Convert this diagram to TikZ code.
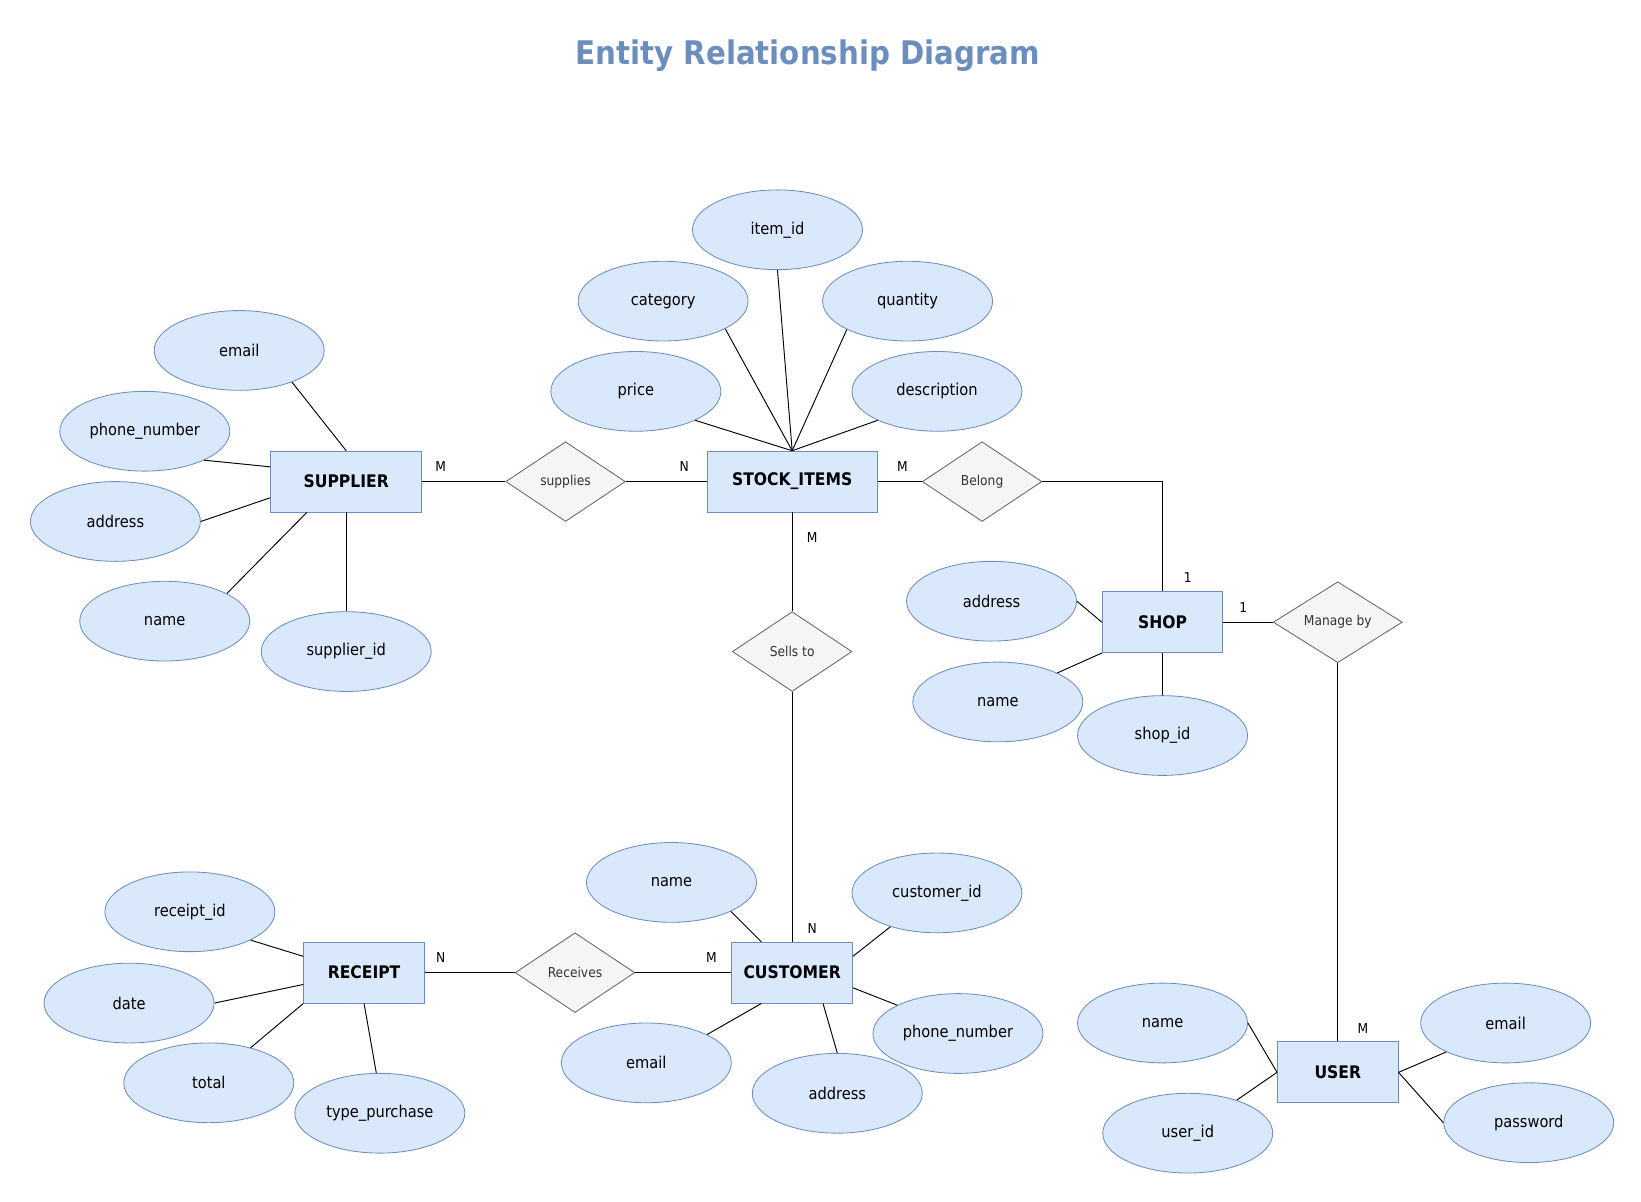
\documentclass[tikz,border=0pt]{standalone}
\usepackage{fontspec}
\setmainfont{DejaVu Sans Condensed}
\usepackage{tikz}
\usetikzlibrary{shapes.geometric}

\definecolor{attrfill}{HTML}{DAE8FC}
\definecolor{attrline}{HTML}{6C8EBF}
\definecolor{relfill}{HTML}{F5F5F5}
\definecolor{relline}{HTML}{666666}

\begin{document}
\begin{tikzpicture}[x=1pt, y=-1pt,
	      entity/.style={draw=attrline, fill=attrfill, line width=0.8pt, minimum width=#1,
	        minimum height=58pt, inner sep=0pt, font=\fontsize{16.5}{18}\selectfont\bfseries},
	      entity/.default=115pt,
	      attr/.style={ellipse, draw=attrline, fill=attrfill, line width=0.8pt, minimum width=162pt,
	        minimum height=76pt, inner sep=0pt, font=\fontsize{15.5}{18}\selectfont},
	      rel/.style={diamond, draw=relline, fill=relfill, line width=0.8pt, minimum width=#1,
	        minimum height=76pt, inner sep=0pt, text=black!80, font=\fontsize{13}{15}\selectfont},
	      rel/.default=114pt,
	      card/.style={font=\fontsize{13}{15}\selectfont},
	      link/.style={to path={-| (\tikztotarget)}}]
\useasboundingbox (0,0) rectangle (1564,1145);
\node[text=attrline, font=\fontsize{31}{36}\selectfont\bfseries] (title) at (770,53) {Entity Relationship Diagram};

% entities
\node[entity=144pt] (supplier) at (330,459) {SUPPLIER};
\node[entity=162pt] (stock) at (755,459) {STOCK\_ITEMS};
\node[entity] (shop) at (1108,593) {SHOP};
\node[entity] (customer) at (755,927) {CUSTOMER};
\node[entity] (receipt) at (347,927) {RECEIPT};
\node[entity] (user) at (1275,1022) {USER};

% relationships
\node[rel] (supplies) at (539,459) {supplies};
\node[rel] (belong) at (936,459) {Belong};
\node[rel] (sells) at (755,621) {Sells to};
\node[rel=123pt] (manage) at (1275,593) {Manage by};
\node[rel] (receives) at (548,927) {Receives};

% attributes
\node[attr] (supplier email) at (228,334) {email};
\node[attr] (supplier phone) at (138,411) {phone\_number};
\node[attr] (supplier address) at (110,497) {address};
\node[attr] (supplier name) at (157,592) {name};
\node[attr] (supplier id) at (330,621) {supplier\_id};

\node[attr] (stock id) at (741,219) {item\_id};
\node[attr] (stock category) at (632,287) {category};
\node[attr] (stock quantity) at (865,287) {quantity};
\node[attr] (stock price) at (606,373) {price};
\node[attr] (stock description) at (893,373) {description};

\node[attr] (shop address) at (945,573) {address};
\node[attr] (shop name) at (951,669) {name};
\node[attr] (shop id) at (1108,701) {shop\_id};

\node[attr] (customer name) at (640,841) {name};
\node[attr] (customer id) at (893,851) {customer\_id};
\node[attr] (customer email) at (616,1013) {email};
\node[attr] (customer address) at (798,1042) {address};
\node[attr] (customer phone) at (913,985) {phone\_number};

\node[attr] (receipt id) at (181,869) {receipt\_id};
\node[attr] (receipt date) at (123,956) {date};
\node[attr] (receipt total) at (199,1032) {total};
\node[attr] (receipt type) at (362,1061) {type\_purchase};

\node[attr] (user name) at (1108,975) {name};
\node[attr] (user id) at (1132,1080) {user\_id};
\node[attr] (user email) at (1435,975) {email};
\node[attr] (user password) at (1457,1070) {password};

% cardinalities
\node[card] (card supplier) at (420,445) {M};
\node[card] (card stock left) at (652,445) {N};
\node[card] (card stock right) at (860,445) {M};
\node[card] (card shop top) at (1132,550) {1};
\node[card] (card stock bottom) at (774,512) {M};
\node[card] (card customer top) at (774,885) {N};
\node[card] (card shop right) at (1185,579) {1};
\node[card] (card user) at (1299,980) {M};
\node[card] (card receipt) at (420,913) {N};
\node[card] (card customer left) at (678,913) {M};

\begin{scope}[line width=0.9pt]
\draw (supplier email.-31) -- (supplier.north);
\draw (supplier phone.-26) -- (supplier.169);
\draw (supplier address.0) -- (supplier.192);
\draw (supplier name.24) -- (supplier.218);
\draw (supplier id.90) -- (supplier.south);

\draw (stock price.-26) -- (stock.north);
\draw (stock category.-24) -- (stock.north);
\draw (stock id.-90) -- (stock.north);
\draw (stock quantity.205) -- (stock.north);
\draw (stock description.206) -- (stock.north);

\draw (shop address.0) -- (shop.west);
\draw (shop name.26) -- (shop.south west);
\draw (shop id.90) -- (shop.south);

\draw (customer name.-26) -- (customer.135);
\draw (customer id.216) -- (customer.15);
\draw (customer phone.155) -- (customer.-14);
\draw (customer address.90) -- (customer.-45);
\draw (customer email.25) -- (customer.225);

\draw (receipt id.-25) -- (receipt.165);
\draw (receipt date.0) -- (receipt.191);
\draw (receipt total.40) -- (receipt.south west);
\draw (receipt type.95) -- (receipt.south);

\draw (user name.0) -- (user.west);
\draw (user id.34) -- (user.west);
\draw (user email.206) -- (user.east);
\draw (user password.180) -- (user.east);

\draw (supplier) -- (supplies) -- (stock);
\draw (stock) -- (belong);
\draw (belong.east) edge[link] (shop.north);
\draw (stock) -- (sells) -- (customer);
\draw (shop) -- (manage);
\draw (manage) -- (user);
\draw (receipt) -- (receives) -- (customer);
\end{scope}
\end{tikzpicture}
\end{document}
